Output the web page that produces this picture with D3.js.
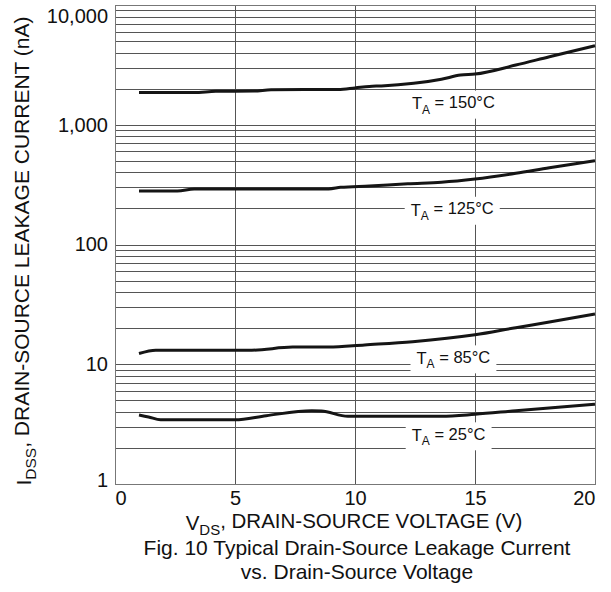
<!DOCTYPE html>
<meta charset="utf-8">
<style>
  body { margin: 0; background: #fff; }
  text { font-family: "Liberation Sans", Arial, sans-serif; fill: #111; }
</style>
<script src="https://d3js.org/d3.v7.min.js"></script>
<div id="chart"></div>
<script>

// values (V in volts, current in nA)
var volts150 = [1, 3.3, 4.2, 5.8, 6.5, 9.3, 10, 10.6, 11.1, 13.6, 14.4, 15, 16.7, 18.1, 20];
var amps150  = [1860, 1860, 1900, 1910, 1960, 1970, 2030, 2090, 2110, 2400, 2600, 2650, 3150, 3700, 4570];

var volts125 = [1, 2.6, 3.3, 8.9, 9.4, 10.6, 12.2, 13.6, 15, 16.7, 18.1, 20];
var amps125  = [280, 280, 291, 291, 300, 308, 322, 331, 352, 393, 438, 501];

var volts85 = [1, 1.7, 5.7, 7.4, 8.9, 10.4, 12.4, 15, 16.7, 18.1, 20];
var amps85  = [12.3, 13.1, 13.1, 13.9, 13.9, 14.5, 15.4, 17.6, 20.2, 22.5, 26.3];

var volts25 = [1, 1.4, 1.9, 5, 6.3, 8.2, 8.6, 9.7, 13.6, 15, 16.7, 20];
var amps25  = [3.77, 3.63, 3.44, 3.44, 3.72, 4.09, 4.07, 3.68, 3.68, 3.82, 4.09, 4.63];

var xTicks = [0, 5, 10, 15, 20];
var yTicks = [1, 10, 100, 1000, 10000];

// curve labels: temperature, and where they sit (V, nA)
var labelTemps = ["150", "125", "85", "25"];
var labelVolts = [14.1, 14.05, 14.1, 13.9];
var labelAmps  = [1500, 195, 11.2, 2.55];

var W = 611, H = 592;
var margin = {top: 5, right: 16, bottom: 108, left: 115},
    width = W - margin.left - margin.right,
    height = H - margin.top - margin.bottom;

var svg = d3.select("#chart").append("svg")
    .attr("width", W)
    .attr("height", H);

var g = svg.append("g")
    .attr("transform", "translate(" + margin.left + "," + margin.top + ")");

var x = d3.scaleLinear().domain([0, 20]).range([0, width]);
var y = d3.scaleLog().domain([1, 10000]).range([height, 0]);

// grid
var hLines = [];
for (var p = 1; p < 10000; p *= 10)
  for (var k = 1; k < 10; k++) hLines.push(k * p);
hLines.push(10000);

var grid = g.append("g").attr("stroke", "#555").attr("stroke-width", 1);
grid.selectAll("line.h").data(hLines).enter().append("line")
    .attr("class", "h")
    .attr("x1", 0).attr("x2", width)
    .attr("y1", function(d) { return Math.round(y(d)) + 0.5; })
    .attr("y2", function(d) { return Math.round(y(d)) + 0.5; });
grid.selectAll("line.v").data([5, 10, 15]).enter().append("line")
    .attr("class", "v")
    .attr("y1", 0).attr("y2", height)
    .attr("x1", function(d) { return Math.round(x(d)) + 0.5; })
    .attr("x2", function(d) { return Math.round(x(d)) + 0.5; });

g.append("rect")
    .attr("x", 0.5).attr("y", 0.5)
    .attr("width", width).attr("height", height)
    .attr("fill", "none").attr("stroke", "#777");

// curves
var series = [
  {v: volts150, a: amps150},
  {v: volts125, a: amps125},
  {v: volts85,  a: amps85},
  {v: volts25,  a: amps25}
];

var line = d3.line()
    .x(function(d) { return x(d[0]); })
    .y(function(d) { return y(d[1]); })
    .curve(d3.curveMonotoneX);

g.selectAll("path.curve").data(series).enter().append("path")
    .attr("class", "curve")
    .attr("d", function(s) { return line(d3.zip(s.v, s.a)); })
    .attr("fill", "none")
    .attr("stroke", "#151515")
    .attr("stroke-width", 3);

// curve labels with white boxes
labelTemps.forEach(function(t, i) {
  var lg = g.append("g")
      .attr("transform", "translate(" + x(labelVolts[i]) + "," + y(labelAmps[i]) + ")");
  var txt = lg.append("text")
      .attr("text-anchor", "middle")
      .attr("dy", "0.35em")
      .style("font-size", "16.5px");
  txt.append("tspan").text("T");
  txt.append("tspan").attr("dy", "0.35em").style("font-size", "12px").text("A");
  txt.append("tspan").attr("dy", "-0.35em").text("\u00a0= " + t + "\u00b0C");
  var bb = txt.node().getBBox();
  lg.insert("rect", "text")
      .attr("x", bb.x - 6).attr("y", -13)
      .attr("width", bb.width + 12).attr("height", 28)
      .attr("fill", "#fff");
});

// axes
var xAxis = g.append("g")
    .attr("transform", "translate(0," + height + ")")
    .call(d3.axisBottom(x).tickValues(xTicks).tickSize(0).tickPadding(7).tickFormat(d3.format("d")));
xAxis.select(".domain").remove();
xAxis.selectAll("text")
    .style("font-size", "20px")
    .attr("fill", "#111")
    .attr("text-anchor", function(d) { return d === 0 ? "start" : d === 20 ? "end" : "middle"; });

var yAxis = g.append("g")
    .call(d3.axisLeft(y).tickValues(yTicks).tickSize(0).tickPadding(7).tickFormat(d3.format(",")));
yAxis.select(".domain").remove();
yAxis.selectAll("text")
    .style("font-size", "20px")
    .attr("fill", "#111")
    .attr("dy", function(d) { return d === 10000 ? "0.85em" : d === 1 ? "0.12em" : "0.32em"; });

// axis titles
var xt = svg.append("text")
    .attr("x", 354).attr("y", 530)
    .attr("text-anchor", "middle")
    .style("font-size", "20.5px");
xt.append("tspan").text("V");
xt.append("tspan").attr("dy", "0.3em").style("font-size", "15px").text("DS");
xt.append("tspan").attr("dy", "-0.3em").text(", DRAIN-SOURCE VOLTAGE (V)");

var yt = svg.append("text")
    .attr("transform", "translate(31,251) rotate(-90)")
    .attr("text-anchor", "middle")
    .style("font-size", "21px");
yt.append("tspan").text("I");
yt.append("tspan").attr("dy", "0.3em").style("font-size", "15.5px").text("DSS");
yt.append("tspan").attr("dy", "-0.3em").text(", DRAIN-SOURCE LEAKAGE CURRENT (nA)");

// caption
svg.append("text")
    .attr("x", 357).attr("y", 555)
    .attr("text-anchor", "middle")
    .style("font-size", "21px")
    .text("Fig. 10 Typical Drain-Source Leakage Current");
svg.append("text")
    .attr("x", 357).attr("y", 579)
    .attr("text-anchor", "middle")
    .style("font-size", "21px")
    .text("vs. Drain-Source Voltage");

</script>
